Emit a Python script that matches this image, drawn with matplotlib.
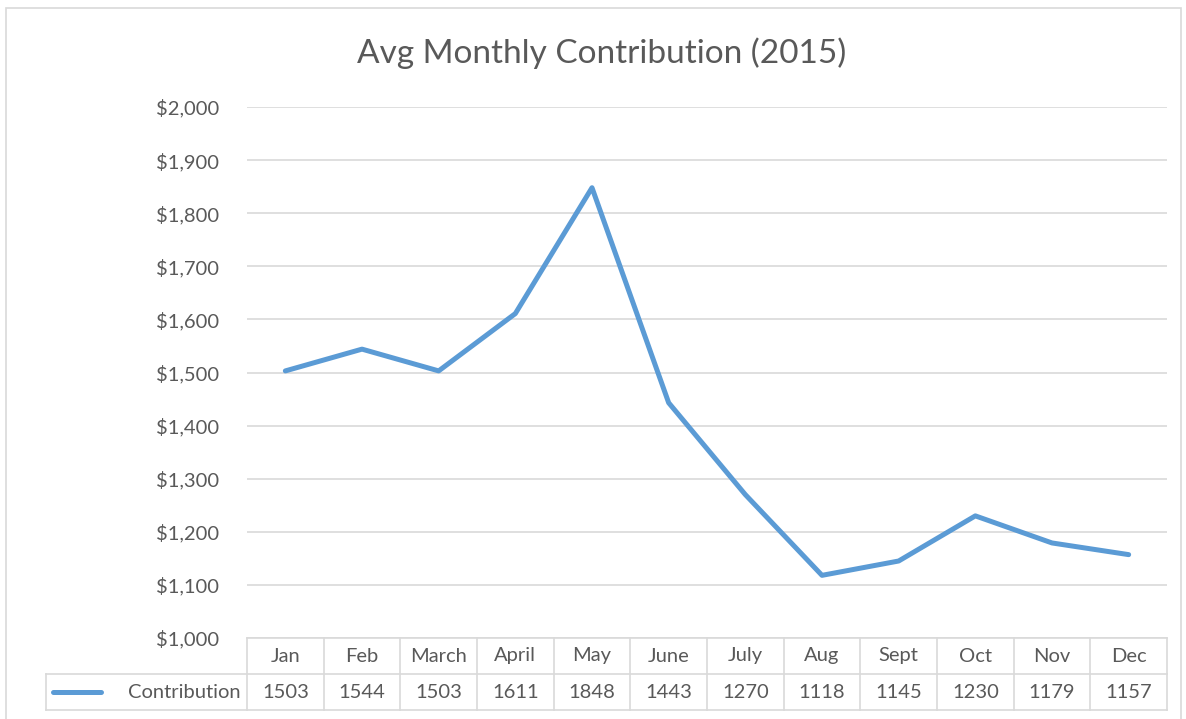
import matplotlib.pyplot as plt
import matplotlib.transforms as mtransforms
from matplotlib.lines import Line2D
from matplotlib.patches import Rectangle
from matplotlib.ticker import FuncFormatter

# --- Data ---
months = ["Jan", "Feb", "March", "April", "May", "June",
          "July", "Aug", "Sept", "Oct", "Nov", "Dec"]
contribution = [1503, 1544, 1503, 1611, 1848, 1443,
                1270, 1118, 1145, 1230, 1179, 1157]
series_name = "Contribution"

plt.rcParams['font.family'] = ['Lato', 'DejaVu Sans']
text_color = '#595959'
grid_color = '#d9d9d9'
line_color = '#5b9bd5'
fs = 14.5

W, H = 1186, 719
fig = plt.figure(figsize=(W / 100, H / 100), dpi=100)

# plot area in pixel terms
left, right, top, bottom = 247, 1167, 107, 638
ax = fig.add_axes([left / W, 1 - bottom / H, (right - left) / W, (bottom - top) / H])

x = list(range(len(months)))
ax.plot(x, contribution, color=line_color, linewidth=3.6,
        solid_capstyle='round', solid_joinstyle='round', zorder=3)

ax.set_xlim(-0.5, len(months) - 0.5)
ax.set_ylim(1000, 2000)
ax.set_yticks(range(1000, 2001, 100))
ax.yaxis.set_major_formatter(FuncFormatter(lambda v, p: f"${v:,.0f}"))
ax.tick_params(axis='y', length=0, pad=20, labelsize=fs, labelcolor=text_color)
ax.set_xticks([])
ax.grid(axis='y', color=grid_color, linewidth=1.2)
ax.set_axisbelow(True)
for s in ax.spines.values():
    s.set_visible(False)

# outer chart border
fig.add_artist(Rectangle((6 / W, -0.01), (1181 - 6) / W, 1 - 8 / H + 0.01,
                         transform=fig.transFigure, fill=False,
                         edgecolor=grid_color, linewidth=1.2))

fig.text(602 / W, 1 - 53 / H, "Avg Monthly Contribution (2015)", ha='center', va='center',
         fontsize=24, color=text_color)

# --- data table under the plot ---
row_h = 36 / (bottom - top)
tbl_left = 46 / W
xt = ax.get_xaxis_transform()
ft = mtransforms.blended_transform_factory(fig.transFigure, ax.transAxes)
lkw = dict(color=grid_color, linewidth=1.2, clip_on=False)

fig.add_artist(Line2D([left / W, right / W], [0, 0], transform=ft, **lkw))
for yy in (-row_h, -2 * row_h):
    fig.add_artist(Line2D([tbl_left, right / W], [yy, yy], transform=ft, **lkw))
for b in range(len(months) + 1):
    ax.add_line(Line2D([b - 0.5, b - 0.5], [0, -2 * row_h], transform=xt, **lkw))
fig.add_artist(Line2D([tbl_left, tbl_left], [-row_h, -2 * row_h], transform=ft, **lkw))

for i, (m, v) in enumerate(zip(months, contribution)):
    ax.text(i, -0.5 * row_h, m, transform=xt, ha='center', va='center',
            fontsize=fs, color=text_color)
    ax.text(i, -1.5 * row_h, str(v), transform=xt, ha='center', va='center',
            fontsize=fs, color=text_color)

# legend key inside the table
fig.add_artist(Line2D([53 / W, 101 / W], [-1.5 * row_h, -1.5 * row_h], transform=ft,
                      color=line_color, linewidth=3.6, solid_capstyle='round'))
fig.text(241 / W, -1.5 * row_h, series_name, transform=ft, ha='right', va='center',
         fontsize=fs, color=text_color)

fig.savefig('out.png', dpi=100)
